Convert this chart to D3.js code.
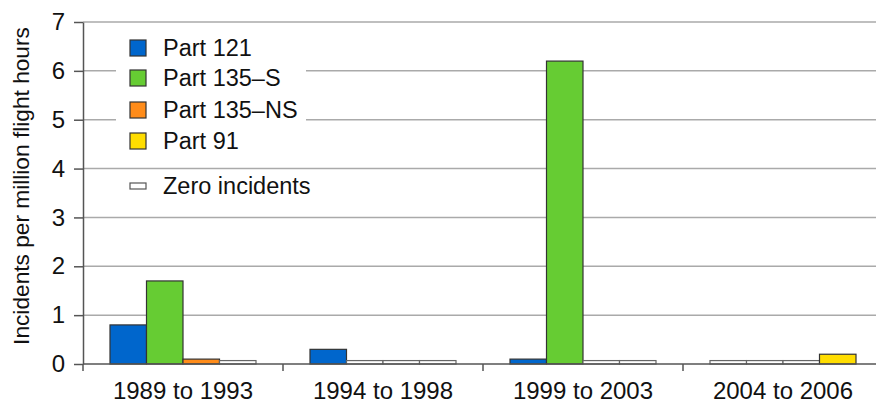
<!DOCTYPE html>
<html>
<head>
<meta charset="utf-8">
<script src="https://cdn.jsdelivr.net/npm/d3@7"></script>
<style>
body { margin: 0; background: #fff; }
svg text { font-family: "Liberation Sans", Arial, sans-serif; fill: #111; }
.grid line { stroke: #aaa; stroke-width: 1.5; }
.axis path, .axis line { stroke: #555; stroke-width: 1.5; }
</style>
</head>
<body>
<div id="chart"></div>
<script>
var periods = ["1989 to 1993", "1994 to 1998", "1999 to 2003", "2004 to 2006"];
var seriesNames = ["Part 121", "Part 135\u2013S", "Part 135\u2013NS", "Part 91"];
var part121 = [0.8, 0.3, 0.1, 0];
var part135S = [1.7, 0, 6.2, 0];
var part135NS = [0.1, 0, 0, 0];
var part91 = [0, 0, 0, 0.2];
var yTicks = [0, 1, 2, 3, 4, 5, 6, 7];
var seriesColors = ["#0066cc", "#66cc33", "#ff8c1a", "#ffdd00"];

var series = [part121, part135S, part135NS, part91];
var ZERO_H = 0.07; // little white bar standing for zero incidents

var width = 876, height = 404;
var margin = {top: 22, right: -7, bottom: 40, left: 83};

var svg = d3.select("#chart").append("svg")
	.attr("width", width)
	.attr("height", height);

var x0 = d3.scaleBand()
	.domain(periods)
	.range([margin.left, width - margin.right])
	.paddingInner(0.27)
	.paddingOuter(0.135);

var x1 = d3.scaleBand()
	.domain(d3.range(seriesNames.length))
	.range([0, x0.bandwidth()]);

var y = d3.scaleLinear()
	.domain([0, 7])
	.range([height - margin.bottom, margin.top]);

// gridlines
svg.append("g")
	.attr("class", "grid")
	.selectAll("line")
	.data(yTicks.slice(1))
	.enter()
	.append("line")
	.attr("x1", margin.left)
	.attr("x2", width)
	.attr("y1", function(d) { return y(d); })
	.attr("y2", function(d) { return y(d); });

// bars
var rows = [];
periods.forEach(function(p, i) {
	series.forEach(function(s, j) {
		rows.push({period: p, idx: j, value: s[i]});
	});
});

svg.append("g")
	.selectAll("rect")
	.data(rows)
	.enter()
	.append("rect")
	.attr("x", function(d) { return x0(d.period) + x1(d.idx); })
	.attr("width", x1.bandwidth())
	.attr("y", function(d) { return y(d.value > 0 ? d.value : ZERO_H); })
	.attr("height", function(d) { return y(0) - y(d.value > 0 ? d.value : ZERO_H); })
	.style("fill", function(d) { return d.value > 0 ? seriesColors[d.idx] : "#fff"; })
	.style("stroke", function(d) { return d.value > 0 ? "#333" : "#666"; })
	.style("stroke-width", 1.2);

// legend (white box hides gridlines behind it)
var legend = svg.append("g");
legend.append("rect")
	.attr("x", 116).attr("y", 32)
	.attr("width", 190).attr("height", 124)
	.style("fill", "#fff");

var legendY = [48, 78, 110, 141];
seriesNames.forEach(function(name, i) {
	legend.append("rect")
		.attr("x", 130).attr("y", legendY[i] - 8)
		.attr("width", 16).attr("height", 16)
		.style("fill", seriesColors[i])
		.style("stroke", "#333")
		.style("stroke-width", 1.2);
	legend.append("text")
		.attr("x", 163).attr("y", legendY[i] + 8)
		.style("font-size", "23.5px")
		.text(name);
});
legend.append("rect")
	.attr("x", 130).attr("y", 183)
	.attr("width", 16).attr("height", 6)
	.style("fill", "#fff")
	.style("stroke", "#555")
	.style("stroke-width", 1.2);
legend.append("text")
	.attr("x", 163).attr("y", 194)
	.style("font-size", "23.5px")
	.text("Zero incidents");

// y axis
var yAxis = svg.append("g")
	.attr("class", "axis")
	.attr("transform", "translate(" + margin.left + ",0)")
	.call(d3.axisLeft(y).tickValues(yTicks).tickFormat(d3.format("d"))
		.tickSize(9).tickPadding(9).tickSizeOuter(0));
yAxis.selectAll("text").style("font-size", "24px");

// x axis with ticks at category boundaries
var xAxis = svg.append("g")
	.attr("class", "axis")
	.attr("transform", "translate(0," + y(0) + ")");
xAxis.append("line")
	.attr("x1", margin.left).attr("x2", width);
xAxis.selectAll(".sep")
	.data(periods)
	.enter()
	.append("line")
	.attr("class", "sep")
	.attr("x1", function(d) { return x0(d) - x0.step() * x0.paddingInner() / 2; })
	.attr("x2", function(d) { return x0(d) - x0.step() * x0.paddingInner() / 2; })
	.attr("y1", 0).attr("y2", 7);
xAxis.selectAll(".lbl")
	.data(periods)
	.enter()
	.append("text")
	.attr("class", "lbl")
	.attr("x", function(d) { return x0(d) + x0.bandwidth() / 2; })
	.attr("y", 35)
	.attr("text-anchor", "middle")
	.style("font-size", "24px")
	.text(function(d) { return d; });

// y axis title
svg.append("text")
	.attr("transform", "translate(29,186) rotate(-90)")
	.attr("text-anchor", "middle")
	.style("font-size", "22.7px")
	.text("Incidents per million flight hours");
</script>
</body>
</html>
